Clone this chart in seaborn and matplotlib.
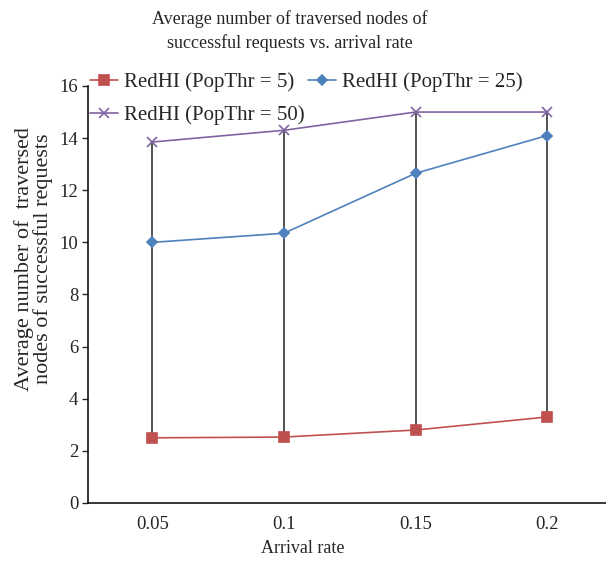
import pandas as pd
import seaborn as sns
import matplotlib.pyplot as plt

# Data
rates = ['0.05', '0.1', '0.15', '0.2']
thr5 = [2.5, 2.53, 2.8, 3.3]
thr25 = [10.0, 10.35, 12.65, 14.1]
thr50 = [13.85, 14.3, 15.0, 15.0]
labels = ['RedHI (PopThr = 5)', 'RedHI (PopThr = 25)', 'RedHI (PopThr = 50)']

sns.set_style('white')
plt.rcParams['font.family'] = ['Liberation Serif', 'DejaVu Serif']

fig = plt.figure(figsize=(6.06, 5.62), dpi=100)
ax = fig.add_axes([0.145, 0.105, 0.86, 0.742])

colors = ['#C0504D', '#4F81BD', '#8064A2']
markers = ['s', 'D', 'x']
msizes = [7, 5.5, 7]

# high-low lines between the series at each arrival rate
lo = [min(a, b, c) for a, b, c in zip(thr5, thr25, thr50)]
hi = [max(a, b, c) for a, b, c in zip(thr5, thr25, thr50)]
ax.vlines(range(len(rates)), lo, hi, color='#222222', lw=1.1, zorder=1)

for vals, lab, c, m, ms in zip([thr5, thr25, thr50], labels, colors, markers, msizes):
    sns.lineplot(x=rates, y=vals, color=c, marker=m, markersize=ms, lw=1.2,
                 markeredgewidth=1.2, markeredgecolor=c, label=lab, ax=ax, zorder=3)

ax.set_xlim(-0.49, 3.47)
ax.set_ylim(0, 16)
ax.set_yticks(range(0, 17, 2))
ax.tick_params(axis='y', left=True, length=4, width=1, labelsize=13.5, pad=3)
ax.tick_params(axis='x', bottom=False, labelsize=13.5, pad=6)
for s in ['top', 'right']:
    ax.spines[s].set_visible(False)
for s in ['left', 'bottom']:
    ax.spines[s].set_color('black')
    ax.spines[s].set_linewidth(1.1)

ax.set_xlabel('Arrival rate', fontsize=13)
ax.xaxis.set_label_coords(0.413, -0.088)
ax.set_ylabel('Average number of  traversed\nnodes of successful requests', fontsize=16,
              linespacing=0.95)
ax.yaxis.set_label_coords(-0.066, 0.585)
ax.set_title('Average number of traversed nodes of\nsuccessful requests vs. arrival rate',
             fontsize=13, pad=27, linespacing=1.45, x=0.388)

handles, labs = ax.get_legend_handles_labels()
order = [0, 2, 1]
ax.legend([handles[i] for i in order], [labs[i] for i in order], ncol=2,
          frameon=False, fontsize=15, loc='upper left', bbox_to_anchor=(0.004, 1.033),
          borderpad=0, borderaxespad=0,
          handlelength=1.35, handletextpad=0.3, columnspacing=0.15, labelspacing=0.65)

fig.savefig('out.png', dpi=100)
